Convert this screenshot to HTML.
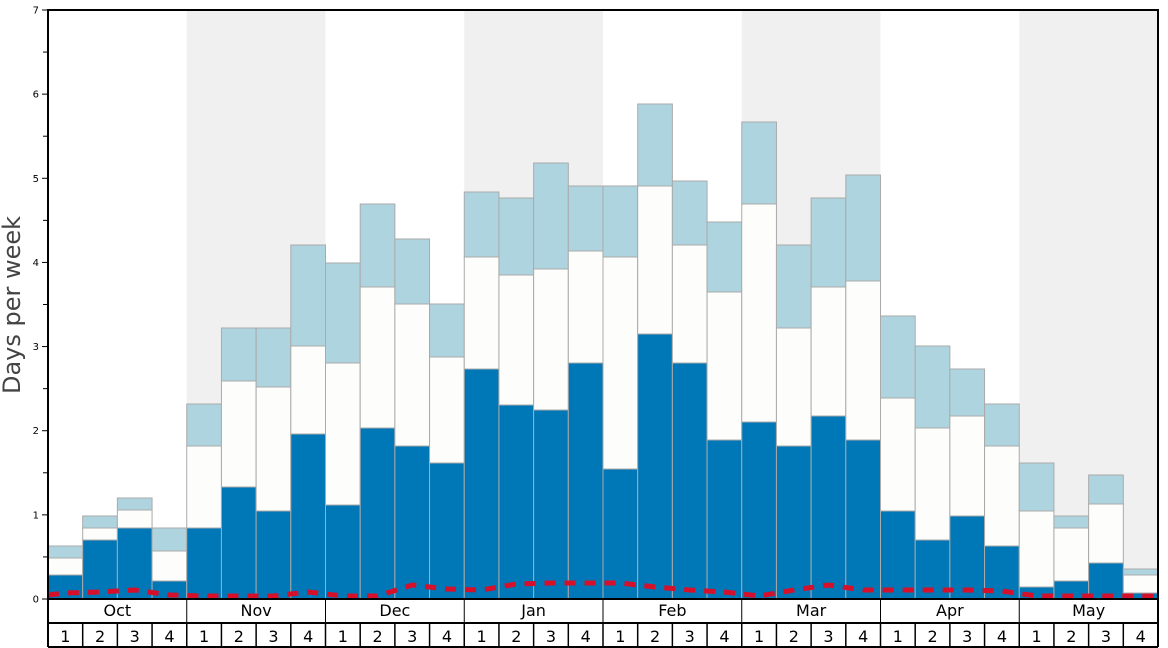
<!DOCTYPE html>
<html><head><meta charset="utf-8"><style>
html,body{margin:0;padding:0;background:#fff;}
svg{display:block;font-family:"DejaVu Sans","Liberation Sans",sans-serif;}
</style></head><body>
<svg id="c" width="1168" height="648" viewBox="0 0 1168 648" xmlns="http://www.w3.org/2000/svg"></svg>
<script>
const s=document.getElementById('c');
let h='';
const L=48,R=1158,T=10,B=599,bw=(R-L)/32,mw=bw*4;
[1,3,5,7].forEach(k=>{h+=`<rect x="${L+mw*k}" y="${T}" width="${mw}" height="${B-T}" fill="#f0f0f0"/>`;});
const d=[[575,558,546],[540,528,516],[528,510,498],[581,551,528],
[528,446,404],[487,381,328],[511,387,328],[434,346,245],
[505,363,263],[428,287,204],[446,304,239],[463,357,304],
[369,257,192],[405,275,198],[410,269,163],[363,251,186],
[469,257,186],[334,186,104],[363,245,181],[440,292,222],
[422,204,122],[446,328,245],[416,287,198],[440,281,175],
[511,398,316],[540,428,346],[516,416,369],[546,446,404],
[587,511,463],[581,528,516],[563,504,475],[593,575,569]];
d.forEach((v,i)=>{const x=L+bw*i;
h+=`<rect x="${x}" y="${v[2]}" width="${bw}" height="${v[1]-v[2]}" fill="#aed4e0" stroke="#aaa" stroke-width="1"/>`;
h+=`<rect x="${x}" y="${v[1]}" width="${bw}" height="${v[0]-v[1]}" fill="#fdfdfb" stroke="#aaa" stroke-width="1"/>`;
h+=`<rect x="${x}" y="${v[0]}" width="${bw}" height="${B-v[0]}" fill="#0077b6" stroke="#aaa" stroke-width="1"/>`;});
const r=[595,593,592,590,595,596,596,596,592,596,596,585,589,590,584,583,583,583,587,590,592,596,590,585,590,590,590,590,591,596,596,596,596,596];
let p='';r.forEach((y,i)=>{const x=L+bw*(i-0.5);p+=(i?'L':'M')+Math.max(L,Math.min(R,x))+' '+y;});
h+=`<path d="${p}" fill="none" stroke="#d6102a" stroke-width="5" stroke-dasharray="11,9"/>`;
h+=`<rect x="${L}" y="${T}" width="${R-L}" height="${B-T}" fill="none" stroke="#000" stroke-width="2"/>`;
for(let v=0;v<=14;v++){const y=B-v*(B-T)/14;const big=v%2==0;
h+=`<line x1="${L-(big?6:5)}" x2="${L}" y1="${y}" y2="${y}" stroke="#000" stroke-width="1"/>`;
if(big)h+=`<text x="${L-9}" y="${y+3.5}" font-size="10" text-anchor="end">${v/2}</text>`;}
h+=`<text x="20" y="305" font-size="24" fill="#444" text-anchor="middle" transform="rotate(-90 20 305)">Days per week</text>`;
h+=`<line x1="${L}" x2="${L}" y1="${B}" y2="647" stroke="#000" stroke-width="2"/><line x1="${R}" x2="${R}" y1="${B}" y2="647" stroke="#000" stroke-width="2"/>`;
h+=`<line x1="${L}" x2="${R}" y1="623" y2="623" stroke="#000" stroke-width="2"/><line x1="${L}" x2="${R}" y1="647" y2="647" stroke="#000" stroke-width="2"/>`;
const m=['Oct','Nov','Dec','Jan','Feb','Mar','Apr','May'];
m.forEach((n,k)=>{const x=L+mw*k;if(k)h+=`<line x1="${x}" x2="${x}" y1="${B}" y2="623" stroke="#000" stroke-width="1"/>`;
h+=`<text x="${x+mw/2}" y="616" font-size="16" text-anchor="middle">${n}</text>`;});
for(let i=0;i<32;i++){const x=L+bw*i;if(i)h+=`<line x1="${x}" x2="${x}" y1="623" y2="647" stroke="#000" stroke-width="1.5"/>`;
h+=`<text x="${x+bw/2}" y="642" font-size="16" text-anchor="middle">${i%4+1}</text>`;}
s.innerHTML=h;
</script>
</body></html>
